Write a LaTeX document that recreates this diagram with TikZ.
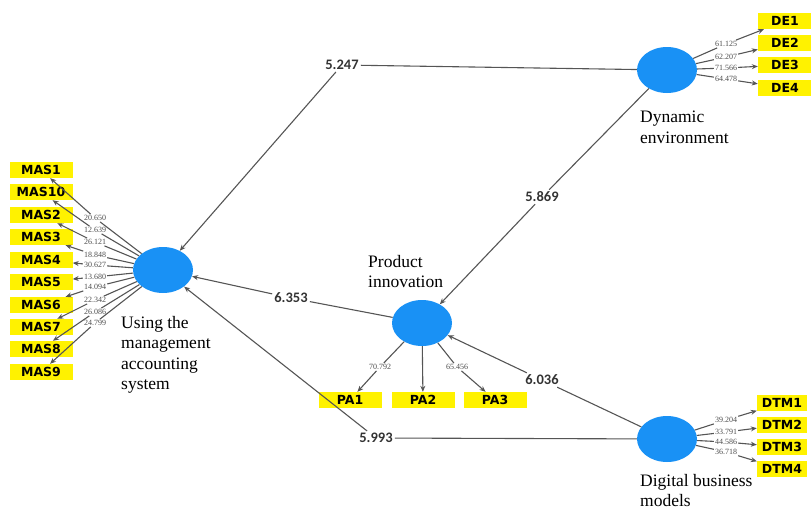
\documentclass[tikz,border=0pt]{standalone}
\usepackage{fontspec}
\setmainfont{Liberation Serif}
\newfontfamily\boxfont{DejaVu Sans}
\newfontfamily\numfont{Carlito}
\usetikzlibrary{shapes,arrows.meta}
\definecolor{plsblue}{RGB}{25,145,245}
\definecolor{linegray}{RGB}{85,85,85}
\tikzset{%
	latent/.style  = {fill=plsblue, ellipse, minimum width=60pt,
		minimum height=46pt, inner sep=0pt},
	ind/.style     = {fill=yellow, rectangle, minimum width=63pt, minimum height=16pt,
		inner sep=0pt, font=\boxfont\bfseries\fontsize{12.5}{12.5}\selectfont}, % Indicator
	coef/.style    = {inner sep=2pt, text=black!80,
		font=\numfont\bfseries\fontsize{14.5}{14.5}\selectfont}, % Path coefficient
	load/.style    = {inner sep=1pt, text=black!70, font=\fontsize{8}{8}\selectfont}, % Loading
	conn/.style    = {draw=linegray, line width=1.1pt, -{Stealth[length=6pt,width=5pt]}},
	caption/.style = {align=left, anchor=north west, inner sep=0pt,
		font=\fontsize{17.5}{20.5}\selectfont}
}

\begin{document}
\begin{tikzpicture}[x=1pt,y=-1pt]
			\useasboundingbox (0,0) rectangle (811,509);

			\node[latent] (mas) at (163,270) {} ;
			\node[latent] (pi) at (422,323) {} ;
			\node[latent] (de) at (667,70) {} ;
			\node[latent] (dtm) at (667,439) {} ;

			\node[caption] (masname) at (121,316) {Using the\\management\\accounting\\system} ;
			\node[caption] (piname) at (368,255) {Product\\innovation} ;
			\node[caption] (dename) at (640,111) {Dynamic\\environment} ;
			\node[caption] (dtmname) at (640,474) {Digital business\\models} ;

			% indicators
			\foreach \b/\y in {MAS1/170, MAS10/192, MAS2/215, MAS3/237, MAS4/260,
				MAS5/282, MAS6/305, MAS7/327, MAS8/349, MAS9/372}
				\node[ind] (\b) at (41,\y) {\b} ;
			\foreach \b/\y in {DE1/21, DE2/43, DE3/65, DE4/88}
				\node[ind, minimum width=54pt] (\b) at (785,\y) {\b} ;
			\foreach \b/\y in {DTM1/403, DTM2/425, DTM3/447, DTM4/469}
				\node[ind, minimum width=50pt] (\b) at (782,\y) {\b} ;
			\foreach \b/\x in {PA1/350, PA2/423, PA3/495}
				\node[ind] (\b) at (\x,400) {\b} ;

			% loadings
			\foreach \b/\v/\y [count=\i] in {MAS1/20.650/218, MAS10/12.639/230,
				MAS2/26.121/242, MAS3/18.848/255, MAS4/30.627/265, MAS5/13.680/277,
				MAS6/14.094/287, MAS7/22.342/300, MAS8/26.086/312, MAS9/24.799/323} {
				\node[load] (lm\i) at (95,\y) {\v} ;
				\draw[conn] (mas) -- (lm\i) -- (\b) ;
			}
			\foreach \b/\v/\y [count=\i] in {DE1/61.125/44, DE2/62.207/57,
				DE3/71.566/68, DE4/64.478/79} {
				\node[load] (ld\i) at (726,\y) {\v} ;
				\draw[conn] (de) -- (ld\i) -- (\b) ;
			}
			\foreach \b/\v/\y [count=\i] in {DTM1/39.204/420, DTM2/33.791/432,
				DTM3/44.586/442, DTM4/36.718/452} {
				\node[load] (lt\i) at (726,\y) {\v} ;
				\draw[conn] (dtm) -- (lt\i) -- (\b) ;
			}
			\node[load] (lp1) at (380,367) {70.792} ;
			\node[load] (lp3) at (457,367) {65.456} ;
			\draw[conn] (pi) -- (lp1) -- (PA1) ;
			\draw[conn] (pi) -- (PA2) ;
			\draw[conn] (pi) -- (lp3) -- (PA3) ;

			% structural paths
			\node[coef] (c1) at (342,65) {5.247} ;
			\node[coef] (c2) at (542,197) {5.869} ;
			\node[coef] (c3) at (291,298) {6.353} ;
			\node[coef] (c4) at (542,380) {6.036} ;
			\node[coef] (c5) at (376,438) {5.993} ;

			\draw[conn] (de) -- (c1) -- (mas) ;
			\draw[conn] (de) -- (c2) -- (pi) ;
			\draw[conn] (pi) -- (c3) -- (mas) ;
			\draw[conn] (dtm) -- (c4) -- (pi) ;
			\draw[conn] (dtm) -- (c5) -- (mas) ;
		\end{tikzpicture}
\end{document}
